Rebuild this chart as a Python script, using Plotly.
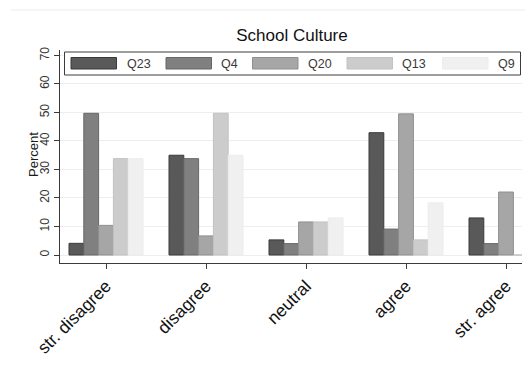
import plotly.graph_objects as go

# Survey responses (percent) per item
categories = ["str. disagree", "disagree", "neutral", "agree", "str. agree"]
series_names = ["Q23", "Q4", "Q20", "Q13", "Q9"]
q23 = [4.1, 35.0, 5.3, 42.9, 13.0]
q4 = [49.7, 33.8, 4.0, 9.1, 4.0]
q20 = [10.4, 6.7, 11.6, 49.5, 22.1]
q13 = [33.8, 49.7, 11.6, 5.3, 0.0]
q9 = [33.8, 35.0, 13.0, 18.3, 0.0]
y_ticks = [0, 10, 20, 30, 40, 50, 60, 70]

values = [q23, q4, q20, q13, q9]
fills = ["#595959", "#808080", "#a6a6a6", "#cccccc", "#f0f0f0"]
edges = ["#3a3a3a", "#676767", "#909090", "#c2c2c2", "#ececec"]

FONT = "Liberation Sans, Arial, sans-serif"
W, H = 525, 376
L, R, T, B = 60, 3, 50, 113
PW, PH = W - L - R, H - T - B


def px(x):
    return (x - L) / PW


def py(y):
    return (H - B - y) / PH


fig = go.Figure()
for name, vals, fc, ec in zip(series_names, values, fills, edges):
    fig.add_trace(go.Bar(
        x=categories, y=vals, name=name,
        marker=dict(color=fc, line=dict(color=ec, width=1)),
        showlegend=False,
    ))

shapes = []
annotations = []

# legend box with wide swatches
shapes.append(dict(type="rect", xref="paper", yref="paper",
                   x0=px(64.5), x1=px(520.5), y0=py(75), y1=py(52),
                   line=dict(color="#3c3c3c", width=1), fillcolor="white",
                   layer="above"))
swatch_x = [71, 166, 252.5, 347, 442.5]
label_x = [124.5, 219, 306, 400, 495.5]
for name, fc, ec, sx, lx in zip(series_names, fills, edges, swatch_x, label_x):
    shapes.append(dict(type="rect", xref="paper", yref="paper",
                       x0=px(sx), x1=px(sx + 45.5), y0=py(69), y1=py(57.5),
                       line=dict(color=ec, width=1), fillcolor=fc,
                       layer="above"))
    annotations.append(dict(text=name, xref="paper", yref="paper",
                            x=px(lx), y=py(63.5), xanchor="left",
                            yanchor="middle", showarrow=False,
                            font=dict(family=FONT, size=12.5, color="#3a3a3a")))

# faint outer frame line at top
shapes.append(dict(type="line", xref="paper", yref="paper",
                   x0=px(11), x1=px(530), y0=py(10), y1=py(10),
                   line=dict(color="#e6eeee", width=1)))

# y axis title
annotations.append(dict(text="Percent", xref="paper", yref="paper",
                        x=px(33), y=py(155), textangle=-90,
                        xanchor="center", yanchor="middle", showarrow=False,
                        font=dict(family=FONT, size=13, color="#1a1a1a")))

fig.update_layout(
    width=W, height=H,
    margin=dict(l=L, r=R, t=T, b=B, pad=0),
    paper_bgcolor="white", plot_bgcolor="white",
    barmode="group", bargap=0.26, bargroupgap=0,
    title=dict(text="School Culture", x=292 / W, xref="container",
               y=1 - 35 / H, yref="container", xanchor="center",
               yanchor="middle",
               font=dict(family=FONT, size=17, color="#111111")),
    shapes=shapes, annotations=annotations,
    font=dict(family=FONT),
)

fig.update_xaxes(
    type="category", range=[-0.46, 4.16],
    showline=True, linecolor="#3a3a3a", linewidth=1,
    ticks="outside", ticklen=5, tickcolor="#3a3a3a", tickwidth=1,
    tickangle=-45, tickfont=dict(family=FONT, size=17.5, color="#111111"),
    showgrid=False, zeroline=False,
)
fig.update_yaxes(
    range=[-2.8, 71.9], tickvals=y_ticks,
    showline=True, linecolor="#3a3a3a", linewidth=1,
    ticks="outside", ticklen=5, tickcolor="#3a3a3a", tickwidth=1,
    tickangle=-90, tickfont=dict(family=FONT, size=12, color="#333333"),
    showgrid=True, gridcolor="#eeeeee", gridwidth=1,
    zeroline=True, zerolinecolor="#eeeeee", zerolinewidth=1,
)

fig.write_html("out.html")
